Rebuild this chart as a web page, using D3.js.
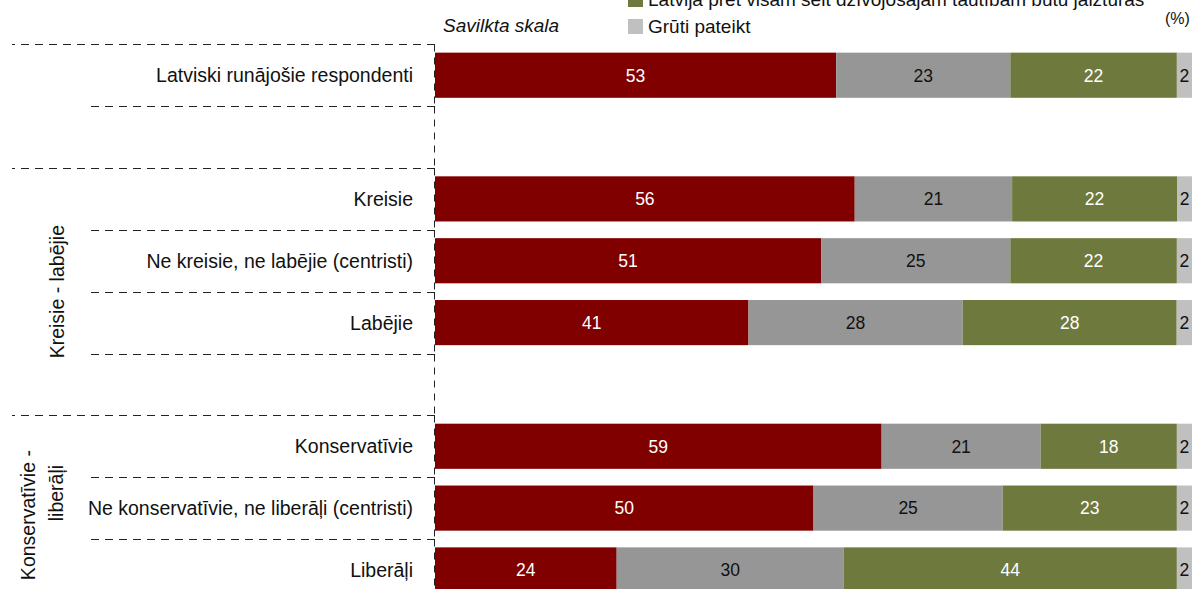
<!DOCTYPE html>
<html>
<head>
<meta charset="utf-8">
<script src="https://cdn.jsdelivr.net/npm/d3@7"></script>
<style>
  html, body { margin: 0; padding: 0; background: #fff; overflow: hidden; }
  svg { display: block; font-family: "Liberation Sans", Arial, sans-serif; }
</style>
</head>
<body>
<svg id="chart" width="1192" height="589"></svg>
<script>
// ---- data ----
const categories = [
  "Latviski runājošie respondenti",
  "Kreisie",
  "Ne kreisie, ne labējie (centristi)",
  "Labējie",
  "Konservatīvie",
  "Ne konservatīvie, ne liberāļi (centristi)",
  "Liberāļi"
];
// row layout (with empty spacer rows between groups)
const rowOrder = [
  "Latviski runājošie respondenti", "gap1",
  "Kreisie", "Ne kreisie, ne labējie (centristi)", "Labējie", "gap2",
  "Konservatīvie", "Ne konservatīvie, ne liberāļi (centristi)", "Liberāļi"
];
const seriesKeys = ["s1", "s2", "s3", "s4"];
const seriesRed = [53, 56, 51, 41, 59, 50, 24];
const seriesGray = [23, 21, 25, 28, 21, 25, 30];
const seriesGreen = [22, 22, 22, 28, 18, 23, 44];
const seriesLight = [2, 2, 2, 2, 2, 2, 2];
const legendLabels = [
  "Latvija pret visām šeit dzīvojošajām tautībām būtu jāizturas",
  "Grūti pateikt"
];
const noteLabel = "Savilkta skala";
const unitLabel = "(%)";
const groupLabels = [
  { lines: ["Kreisie - labējie"], rows: ["Kreisie", "gap2"] },
  { lines: ["Konservatīvie -", "liberāļi"], rows: ["Konservatīvie", "Liberāļi"] }
];
// group starts (full-width separator) vs inner separators
const groupStarts = ["Latviski runājošie respondenti", "Kreisie", "Konservatīvie"];

// ---- build table ----
const table = categories.map((c, i) => ({
  cat: c,
  s1: seriesRed[i], s2: seriesGray[i], s3: seriesGreen[i], s4: seriesLight[i]
}));
table.forEach(d => {
  const tot = d.s1 + d.s2 + d.s3 + d.s4;
  seriesKeys.forEach(k => d["n_" + k] = d[k] / tot);
});

const colors = { s1: "#800000", s2: "#969696", s3: "#6e793d", s4: "#c0c0c0" };
const textColors = { s1: "#ffffff", s2: "#111111", s3: "#ffffff", s4: "#111111" };

const svg = d3.select("#chart");
const axisX = 435;

const x = d3.scaleLinear().domain([0, 1]).range([axisX, 1192]);
const rowStep = 61.84;
const plotTop = 44.3;
const y = d3.scaleBand()
  .domain(rowOrder)
  .range([plotTop, plotTop + rowStep * rowOrder.length])
  .paddingInner(0.27)
  .paddingOuter(0.135);

const sepY = r => y(r) - (y.step() - y.bandwidth()) / 2;

// ---- stacked bars ----
const stack = d3.stack().keys(seriesKeys.map(k => "n_" + k));
const stacked = stack(table);

const gBars = svg.append("g");
stacked.forEach((layer, li) => {
  const key = seriesKeys[li];
  gBars.selectAll(null)
    .data(layer)
    .enter()
    .append("rect")
    .attr("x", d => x(d[0]))
    .attr("y", d => y(d.data.cat))
    .attr("width", d => x(d[1]) - x(d[0]))
    .attr("height", y.bandwidth())
    .attr("fill", colors[key]);
  gBars.selectAll(null)
    .data(layer)
    .enter()
    .append("text")
    .attr("x", d => (x(d[0]) + x(d[1])) / 2)
    .attr("y", d => y(d.data.cat) + y.bandwidth() / 2)
    .attr("dy", "0.36em")
    .attr("text-anchor", "middle")
    .attr("font-size", 17.5)
    .attr("fill", textColors[key])
    .text(d => d.data[key]);
});

// ---- separators and dashed axis ----
const gLines = svg.append("g")
  .attr("stroke", "#222")
  .attr("stroke-width", 1)
  .attr("fill", "none")
  .attr("stroke-dasharray", "8,6");

rowOrder.forEach(r => {
  const yy = Math.round(sepY(r)) + 0.5;
  const x0 = groupStarts.includes(r) ? 12 : 90;
  gLines.append("line")
    .attr("x1", axisX).attr("x2", x0)
    .attr("y1", yy).attr("y2", yy);
  gLines.append("line")
    .attr("x1", axisX - 0.5).attr("x2", axisX - 0.5)
    .attr("y1", yy).attr("y2", Math.round(sepY(r) + y.step()) + 0.5)
    .attr("stroke-dasharray", "7,6");
});

// ---- category labels ----
svg.append("g").selectAll("text")
  .data(categories)
  .enter()
  .append("text")
  .attr("x", 413)
  .attr("y", d => y(d) + y.bandwidth() / 2)
  .attr("dy", "0.36em")
  .attr("text-anchor", "end")
  .attr("font-size", 19.5)
  .attr("fill", "#111")
  .text(d => d);

// ---- group labels ----
const g1 = groupLabels[0];
const g1c = (sepY(g1.rows[0]) + sepY(g1.rows[1]) + y.step()) / 2;
svg.append("text")
  .attr("transform", `translate(57,${g1c}) rotate(-90)`)
  .attr("text-anchor", "middle")
  .attr("dy", "0.36em")
  .attr("font-size", 19.5)
  .attr("fill", "#111")
  .text(g1.lines[0]);

const g2 = groupLabels[1];
const g2c = (sepY(g2.rows[0]) + sepY(g2.rows[1]) + y.step()) / 2;
svg.append("text")
  .attr("transform", `translate(28,${g2c + 7}) rotate(-90)`)
  .attr("text-anchor", "middle")
  .attr("dy", "0.36em")
  .attr("font-size", 19.5)
  .attr("fill", "#111")
  .text(g2.lines[0]);
svg.append("text")
  .attr("transform", `translate(56,${g2c - 15}) rotate(-90)`)
  .attr("text-anchor", "middle")
  .attr("dy", "0.36em")
  .attr("font-size", 19.5)
  .attr("fill", "#111")
  .text(g2.lines[1]);

// ---- legend ----
const legendColors = [colors.s3, colors.s4];
const leg = svg.append("g");
legendLabels.forEach((t, i) => {
  const by = 6 + i * 27;
  leg.append("rect")
    .attr("x", 628).attr("y", by - 14)
    .attr("width", 15).attr("height", 15)
    .attr("fill", legendColors[i]);
  leg.append("text")
    .attr("x", 648).attr("y", by)
    .attr("font-size", 19)
    .attr("fill", "#111")
    .text(t);
});
svg.append("text")
  .attr("x", 443).attr("y", 32)
  .attr("font-size", 19)
  .attr("font-style", "italic")
  .attr("fill", "#111")
  .text(noteLabel);
svg.append("text")
  .attr("x", 1165).attr("y", 24)
  .attr("font-size", 16)
  .attr("fill", "#111")
  .text(unitLabel);
</script>
</body>
</html>
